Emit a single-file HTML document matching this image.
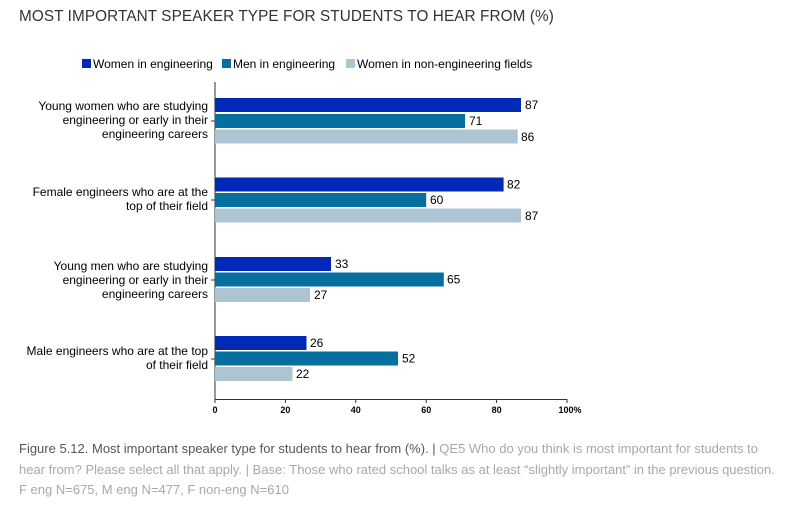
<!DOCTYPE html>
<html><head><style>
body{margin:0;width:786px;height:515px;background:#fff;font-family:"Liberation Sans",sans-serif;overflow:hidden;position:relative}
.t{position:absolute;left:19px;top:8px;font-size:15.3px;color:#333;letter-spacing:0.1px}
.cap{position:absolute;left:19px;top:439px;width:767px;font-size:13px;line-height:20.5px;color:#555}
.cap span{color:#a8a8a8}
</style></head><body>
<div class="t">MOST IMPORTANT SPEAKER TYPE FOR STUDENTS TO HEAR FROM (%)</div>
<svg width="786" height="430" style="position:absolute;left:0;top:0" font-family="Liberation Sans, sans-serif" font-size="12" fill="#000">
<rect x="82" y="59" width="9" height="9" fill="#0029b8"/><text x="93" y="68">Women in engineering</text>
<rect x="222" y="59" width="9" height="9" fill="#05709f"/><text x="233" y="68">Men in engineering</text>
<rect x="346" y="59" width="9" height="9" fill="#adc4d2"/><text x="357" y="68">Women in non-engineering fields</text>
<g stroke="#333" stroke-width="1">
<line x1="215" y1="82" x2="215" y2="400"/>
<line x1="215" y1="399.5" x2="567" y2="399.5"/>
<line x1="285.4" y1="399" x2="285.4" y2="403"/><line x1="355.8" y1="399" x2="355.8" y2="403"/><line x1="426.2" y1="399" x2="426.2" y2="403"/><line x1="496.6" y1="399" x2="496.6" y2="403"/><line x1="567" y1="399" x2="567" y2="403"/><line x1="215" y1="399" x2="215" y2="403"/>
<line x1="211" y1="121" x2="215" y2="121"/><line x1="211" y1="200" x2="215" y2="200"/><line x1="211" y1="280" x2="215" y2="280"/><line x1="211" y1="359" x2="215" y2="359"/>
</g>
<g font-size="9" font-weight="bold" text-anchor="middle">
<text x="215" y="413">0</text><text x="285.4" y="413">20</text><text x="355.8" y="413">40</text><text x="426.2" y="413">60</text><text x="496.6" y="413">80</text><text x="570" y="413">100%</text>
</g>
<g text-anchor="end">
<text x="208" y="110">Young women who are studying</text><text x="208" y="124">engineering or early in their</text><text x="208" y="138">engineering careers</text>
<text x="208" y="196">Female engineers who are at the</text><text x="208" y="210">top of their field</text>
<text x="208" y="270">Young men who are studying</text><text x="208" y="284">engineering or early in their</text><text x="208" y="298">engineering careers</text>
<text x="208" y="355">Male engineers who are at the top</text><text x="208" y="369">of their field</text>
</g>
<g>
<rect x="215" y="98" width="306" height="14" fill="#0029b8"/><text x="525" y="109">87</text>
<rect x="215" y="114" width="250" height="14" fill="#05709f"/><text x="469" y="125">71</text>
<rect x="215" y="129.5" width="302.7" height="14" fill="#adc4d2"/><text x="521" y="141">86</text>

<rect x="215" y="177.5" width="288.6" height="14" fill="#0029b8"/><text x="507" y="188.5">82</text>
<rect x="215" y="193" width="211.2" height="14" fill="#05709f"/><text x="430" y="204">60</text>
<rect x="215" y="208.5" width="306" height="14" fill="#adc4d2"/><text x="525" y="220">87</text>

<rect x="215" y="257" width="116" height="14" fill="#0029b8"/><text x="335" y="268">33</text>
<rect x="215" y="272.5" width="228.8" height="14" fill="#05709f"/><text x="447" y="283.5">65</text>
<rect x="215" y="288" width="95" height="14" fill="#adc4d2"/><text x="314" y="299">27</text>

<rect x="215" y="336" width="91.5" height="14" fill="#0029b8"/><text x="310" y="347">26</text>
<rect x="215" y="351.5" width="183" height="14" fill="#05709f"/><text x="402" y="362.5">52</text>
<rect x="215" y="367" width="77.4" height="14" fill="#adc4d2"/><text x="296" y="378">22</text>
</g>
</svg>
<div class="cap">Figure 5.12. Most important speaker type for students to hear from (%). | <span>QE5 Who do you think is most important for students to hear from? Please select all that apply. | Base: Those who rated school talks as at least “slightly important” in the previous question. F eng N=675, M eng N=477, F non-eng N=610</span></div>
</body></html>
